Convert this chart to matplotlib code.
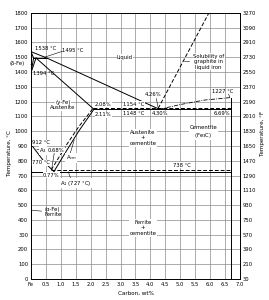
import matplotlib
matplotlib.use("Agg")
import matplotlib.pyplot as plt

# ---- data (carbon wt%, temperature degC) ----
liquidus_c = [0.0, 0.53, 4.30]
liquidus_t = [1538, 1495, 1148]
liq_hyper_c = [4.30, 5.0, 5.8, 6.67]
liq_hyper_t = [1148, 1180, 1210, 1227]
delta_sol_c = [0.0, 0.09]
delta_sol_t = [1538, 1495]
peritectic_c = [0.09, 0.53]
peritectic_t = [1495, 1495]
delta_a_c = [0.0, 0.09]
delta_a_t = [1394, 1495]
delta_b_c = [0.0, 0.17]
delta_b_t = [1394, 1495]
aust_sol_c = [0.17, 2.11]
aust_sol_t = [1495, 1148]
eutectic_c = [2.11, 6.70]
eutectic_t = [1148, 1148]
eut_graph_c = [2.08, 6.70]
eut_graph_t = [1154, 1154]
acm_c = [0.77, 1.2, 1.6, 2.11]
acm_t = [727, 870, 1000, 1148]
acm_graph_c = [0.68, 1.2, 1.6, 2.08]
acm_graph_t = [738, 910, 1030, 1154]
a3_c = [0.0, 0.1, 0.25, 0.4, 0.55, 0.77]
a3_t = [912, 885, 845, 805, 770, 727]
a2_c = [0.0, 0.55]
a2_t = [770, 770]
a1_c = [0.022, 6.70]
a1_t = [727, 727]
a1_graph_c = [0.68, 6.70]
a1_graph_t = [738, 738]
ferrite_c = [0.022, 0.012, 0.004, 0.0]
ferrite_t = [727, 500, 200, 0]
cementite_c = [6.70, 6.70]
cementite_t = [0, 1227]
graphite_sol_c = [4.26, 5.96]
graphite_sol_t = [1154, 1800]

c_ticks = [0, 0.5, 1.0, 1.5, 2.0, 2.5, 3.0, 3.5, 4.0, 4.5, 5.0, 5.5, 6.0, 6.5, 7.0]
c_labels = ["Fe", "0.5", "1.0", "1.5", "2.0", "2.5", "3.0", "3.5", "4.0", "4.5",
            "5.0", "5.5", "6.0", "6.5", "7.0"]
t_ticks = list(range(0, 1900, 100))
f_labels = ["30", "210", "390", "570", "750", "930", "1110", "1290", "1470", "1650",
            "1830", "2010", "2190", "2370", "2550", "2730", "2910", "3090", "3270"]

fs = 3.8
fig = plt.figure(figsize=(2.69, 3.0), dpi=100)
ax = fig.add_axes([0.115, 0.07, 0.777, 0.887])
ax.set_xlim(0, 7)
ax.set_ylim(0, 1800)
ax.set_xticks(c_ticks)
ax.set_xticklabels(c_labels, fontsize=fs)
ax.set_yticks(t_ticks)
ax.set_yticklabels([str(t) for t in t_ticks], fontsize=fs)
ax.tick_params(length=0, pad=2)
ax.grid(True, color="#8a8a8a", lw=0.5)
ax.set_axisbelow(True)
for s in ax.spines.values():
    s.set_linewidth(0.6)

ax2 = ax.twinx()
ax2.set_ylim(0, 1800)
ax2.set_yticks(t_ticks)
ax2.set_yticklabels(f_labels, fontsize=fs)
ax2.tick_params(length=0, pad=2)
for s in ax2.spines.values():
    s.set_linewidth(0.6)

k = dict(color="black", lw=0.7)
kd = dict(color="black", lw=0.7, ls=(0, (4, 2)))
for cc, tt in [(liquidus_c, liquidus_t), (delta_sol_c, delta_sol_t),
               (peritectic_c, peritectic_t), (delta_a_c, delta_a_t),
               (delta_b_c, delta_b_t), (aust_sol_c, aust_sol_t),
               (eutectic_c, eutectic_t), (acm_c, acm_t), (a3_c, a3_t),
               (a1_c, a1_t), (ferrite_c, ferrite_t), (cementite_c, cementite_t)]:
    ax.plot(cc, tt, **k)
for cc, tt in [(eut_graph_c, eut_graph_t), (acm_graph_c, acm_graph_t),
               (a1_graph_c, a1_graph_t), (graphite_sol_c, graphite_sol_t),
               (a2_c, a2_t)]:
    ax.plot(cc, tt, **kd)
ax.plot(liq_hyper_c, liq_hyper_t, color="black", lw=0.6, ls=(0, (5, 1.5, 1, 1.5)))

ax.set_xlabel("Carbon, wt%", fontsize=fs + 0.3, labelpad=3)
fig.text(0.035, 0.49, "Temperature, °C", rotation=90, fontsize=fs + 0.3,
         ha="center", va="center")
fig.text(0.975, 0.555, "Temperature, °F", rotation=90, fontsize=fs + 0.3,
         ha="center", va="center")

wb = dict(facecolor="white", edgecolor="none", pad=0.3)
def t(x, y, s, **kw):
    kw.setdefault("fontsize", fs)
    kw.setdefault("ha", "center")
    kw.setdefault("va", "center")
    ax.text(x, y, s, **kw)

def lead(x0, y0, x1, y1):
    ax.plot([x0, x1], [y0, y1], color="black", lw=0.4)

t(0.15, 1560, "1538 °C", ha="left")
t(1.05, 1545, "1495 °C", ha="left")
lead(0.45, 1500, 1.05, 1540)
t(0.08, 1390, "1394 °C", ha="left")
ax.annotate("(δ-Fe)", xy=(0, 1450), xytext=(-0.45, 1455), fontsize=fs,
            ha="center", va="center", annotation_clip=False,
            arrowprops=dict(arrowstyle="-", lw=0.4))
t(3.15, 1500, "Liquid", bbox=wb)
t(5.95, 1470, "Solubility of\ngraphite in\nliquid iron", bbox=wb, linespacing=1.1)
lead(5.12, 1472, 5.3, 1472)
t(4.1, 1245, "4.26%")
lead(4.2, 1220, 4.26, 1160)
t(6.42, 1268, "1227 °C")
lead(6.62, 1250, 6.66, 1230)
t(3.45, 1182, "1154 °C", bbox=wb)
t(3.45, 1122, "1148 °C", bbox=wb)
t(4.32, 1120, "4.30%", bbox=wb)
t(6.4, 1120, "6.69%", bbox=wb)
t(2.15, 1180, "2.08%", ha="left", bbox=wb)
t(2.15, 1112, "2.11%", ha="left", bbox=wb)
t(1.07, 1192, "(γ-Fe)", bbox=wb)
t(1.07, 1157, "Austenite", bbox=wb)
t(3.75, 955, "Austenite\n+\ncementite", bbox=wb, linespacing=1.2)
t(5.78, 990, "Cementite\n(Fe$_3$C)", bbox=wb, linespacing=1.1)
t(0.05, 920, "912 °C", ha="left", bbox=wb)
t(0.4, 870, "A$_3$", bbox=wb)
lead(0.2, 878, 0.33, 872)
t(0.85, 870, "0.68%", bbox=wb)
lead(0.78, 852, 0.7, 750)
t(1.35, 820, "A$_{cm}$", bbox=wb)
lead(1.3, 840, 1.45, 940)
t(0.02, 785, "770 °C", ha="left", bbox=wb)
t(0.68, 703, "0.77%", bbox=wb)
t(1.5, 648, "A$_1$ (727 °C)", bbox=wb)
lead(1.35, 668, 1.25, 725)
t(5.05, 770, "738 °C", bbox=wb)
t(3.75, 345, "Ferrite\n+\ncementite", bbox=wb, linespacing=1.2)
ax.annotate("(α-Fe)\nFerrite", xy=(0.02, 465), xytext=(0.45, 452), fontsize=fs,
            ha="left", va="center", linespacing=1.1,
            arrowprops=dict(arrowstyle="-", lw=0.4, shrinkA=0, shrinkB=0))

fig.savefig("out.png", dpi=100)
